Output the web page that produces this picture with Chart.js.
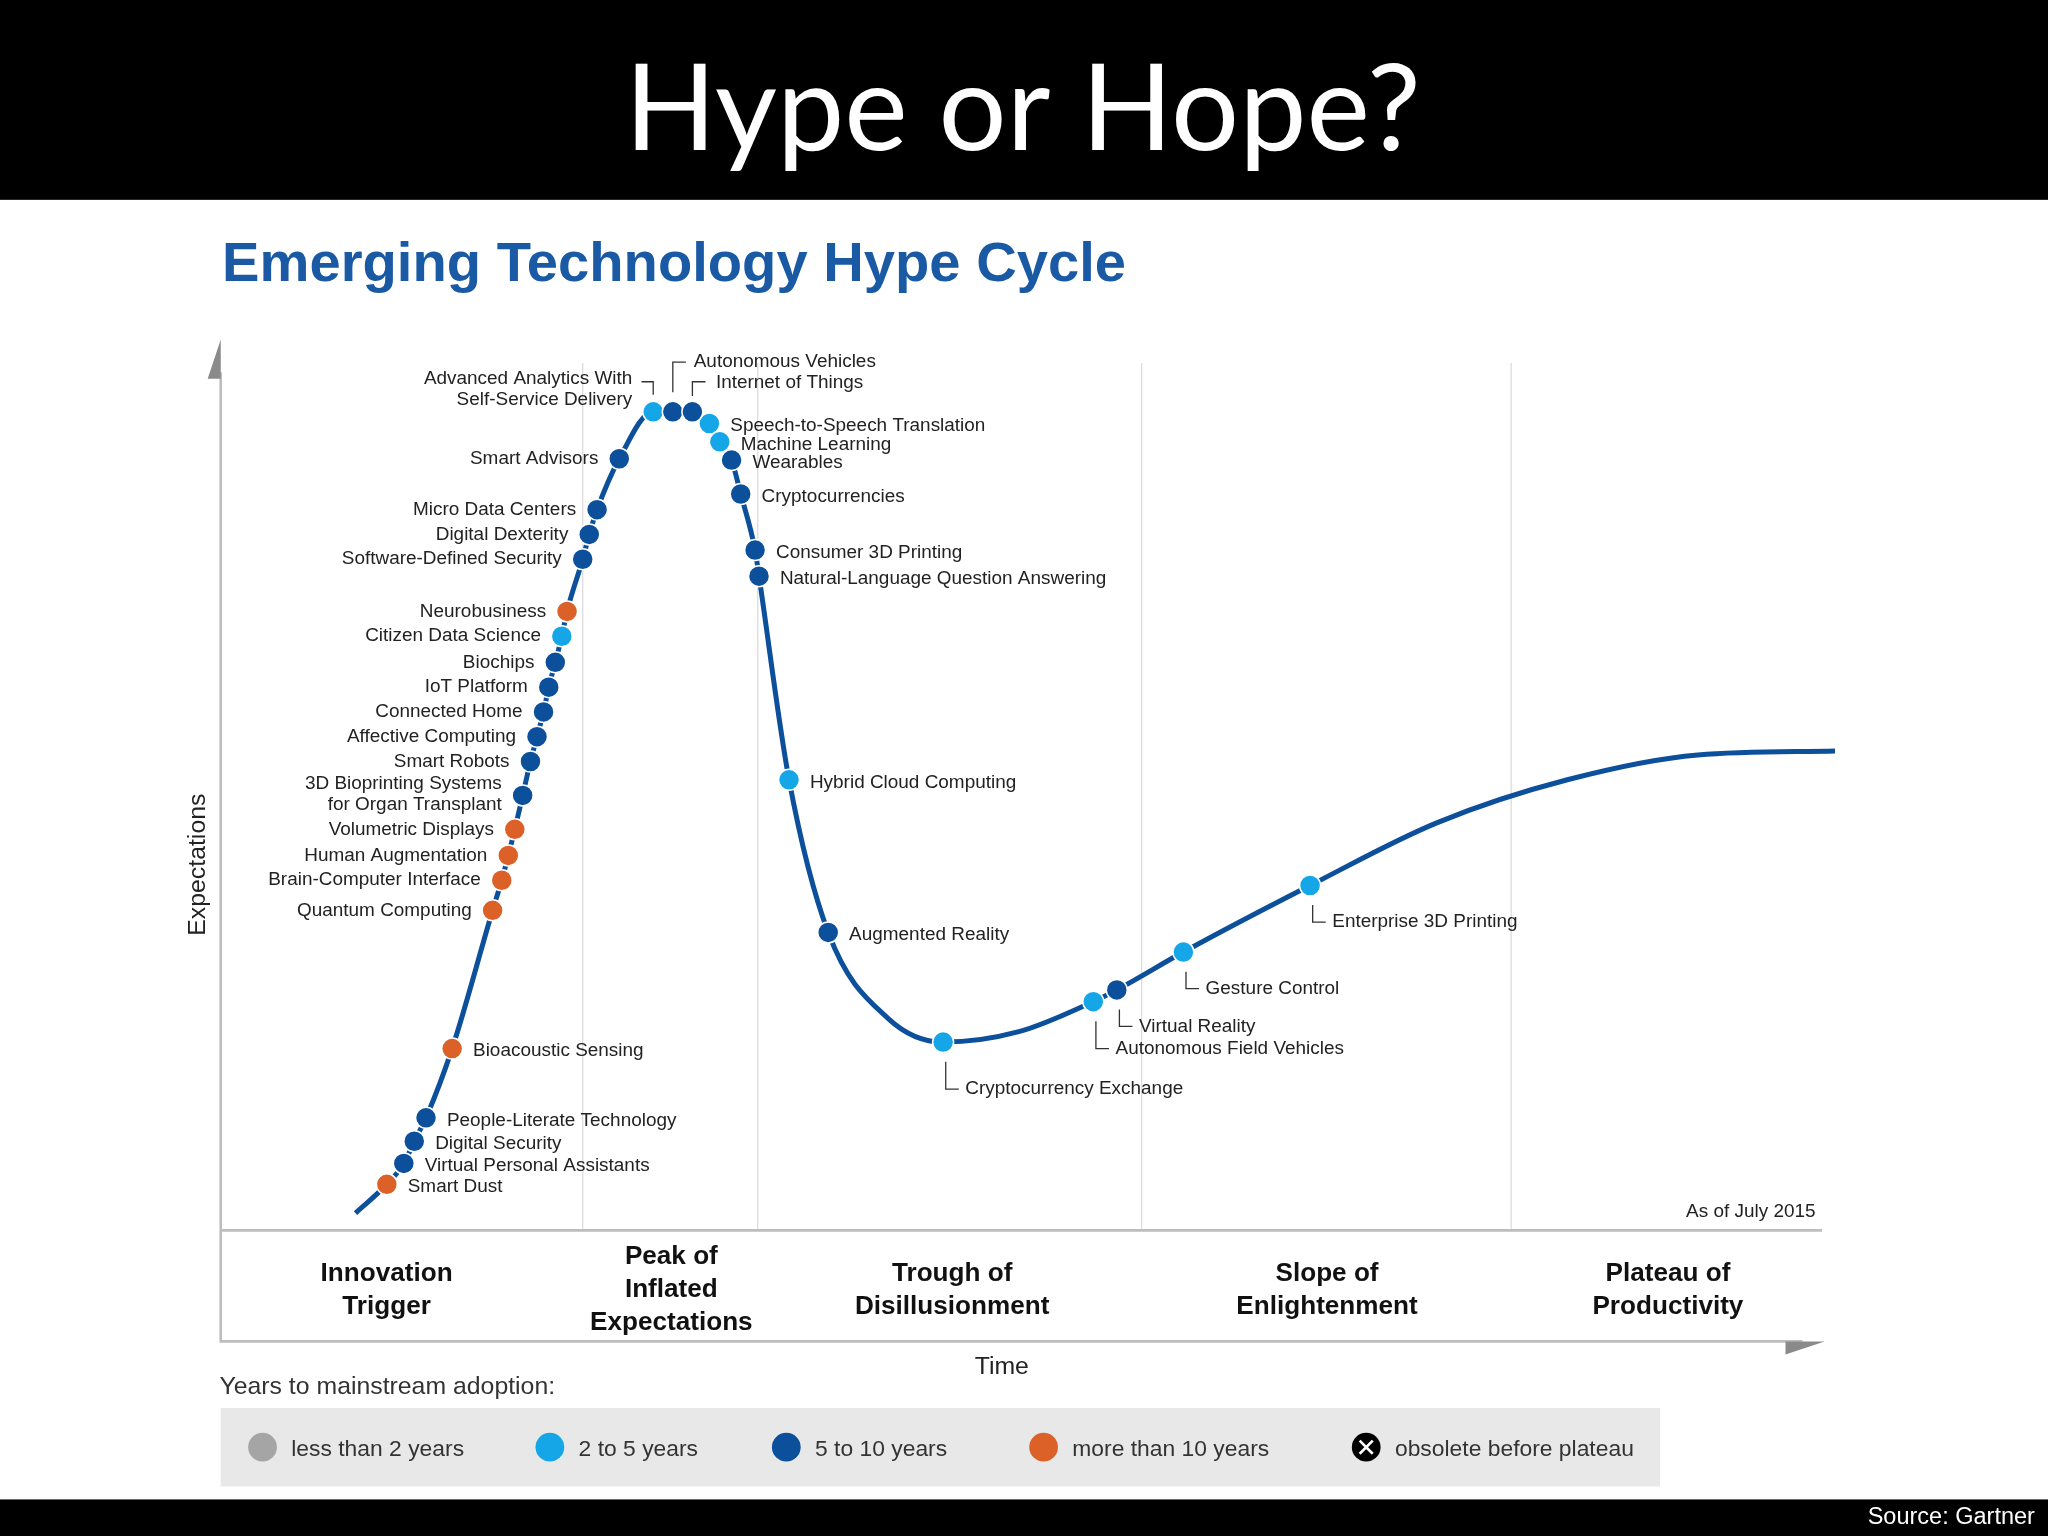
<!DOCTYPE html>
<html><head><meta charset="utf-8">
<script src="https://cdn.jsdelivr.net/npm/chart.js@4/dist/chart.umd.min.js"></script>
<style>html,body{margin:0;padding:0;background:#fff}canvas{display:block}</style>
</head><body>
<canvas id="c" width="2048" height="1536"></canvas>
<script>
// ---- Data (units: position along time axis / expectations) ----
const curveX = [103,127,140,148,157,177,208,215,220,225,231,237,242,247,251,256,261,265,277,282,288,305,331,346,361,374,382,391,398,409,412,435,465,511,553,611,668,686,737,834,931,1031,1131,1236];
const curveY = [13,35,51,68,86,139,245,268,287,307,333,359,378,397,416,435,455,474,514,533,552,591,627,627,627,618,604,590,564,521,501,345,228,162,144,152,175,184,213,264,312,345,364,367];
const techNames = ["Smart Dust","Virtual Personal Assistants","Digital Security","People-Literate Technology","Bioacoustic Sensing","Quantum Computing","Brain-Computer Interface","Human Augmentation","Volumetric Displays","3D Bioprinting Systems|for Organ Transplant","Smart Robots","Affective Computing","Connected Home","IoT Platform","Biochips","Citizen Data Science","Neurobusiness","Software-Defined Security","Digital Dexterity","Micro Data Centers","Smart Advisors","Advanced Analytics With|Self-Service Delivery","Autonomous Vehicles","Internet of Things","Speech-to-Speech Translation","Machine Learning","Wearables","Cryptocurrencies","Consumer 3D Printing","Natural-Language Question Answering","Hybrid Cloud Computing","Augmented Reality","Cryptocurrency Exchange","Autonomous Field Vehicles","Virtual Reality","Gesture Control","Enterprise 3D Printing"];
const techX = [127,140,148,157,177,208,215,220,225,231,237,242,247,251,256,261,265,277,282,288,305,331,346,361,374,382,391,398,409,412,435,465,553,668,686,737,834];
const techY = [35,51,68,86,139,245,268,287,307,333,359,378,397,416,435,455,474,514,533,552,591,627,627,627,618,604,590,564,521,501,345,228,144,175,184,213,264];
const techYears = ["10+","5-10","5-10","5-10","10+","10+","10+","10+","10+","5-10","5-10","5-10","5-10","5-10","5-10","2-5","10+","5-10","5-10","5-10","5-10","2-5","5-10","5-10","2-5","2-5","5-10","5-10","5-10","5-10","2-5","5-10","2-5","2-5","5-10","2-5","2-5"];
const phaseLabels = ["Innovation|Trigger","Peak of|Inflated|Expectations","Trough of|Disillusionment","Slope of|Enlightenment","Plateau of|Productivity"];
const phaseBounds = [277,411,705,988];
const legendLabels = ["less than 2 years","2 to 5 years","5 to 10 years","more than 10 years","obsolete before plateau"];
const yearKeys = ["<2","2-5","5-10","10+","obsolete"];

const COLORS = {"<2":"#a5a5a5","2-5":"#15a6e8","5-10":"#0c4f9b","10+":"#dc6128","obsolete":"#000"};
const S = 2048/1568;
const F = "'Liberation Sans', Arial, sans-serif";

function pts(key){const a=[];techX.forEach((x,i)=>{if(techYears[i]===key)a.push({x,y:techY[i],i});});return a;}

const place = {21:'aa',22:'av',23:'iot',32:'lb2',33:'lb2',34:'lb',35:'lb',36:'lb'};

const deco = {
  id:'deco',
  beforeDraw(ch){
    const c=ch.ctx; c.save(); c.scale(S,S);
    c.fillStyle='#fff'; c.fillRect(0,0,1568,1176);
    c.fillStyle='#000'; c.fillRect(0,0,1568,153); c.fillRect(0,1148,1568,28);
    c.fillStyle='#fff'; c.textAlign='center'; c.textBaseline='alphabetic';
    c.font="400 92px Lato, 'Open Sans', sans-serif"; c.fillText('Hype or Hope?',783,115);
    c.textAlign='right'; c.font='18px '+F; c.fillText('Source: Gartner',1558,1167);
    c.fillStyle='#1a5aa5'; c.textAlign='left'; c.font='bold 43px '+F; c.fillText('Emerging Technology Hype Cycle',170,215);
    const xs=ch.scales.x;
    c.strokeStyle='#dcdcdc'; c.lineWidth=1;
    phaseBounds.forEach(b=>{const px=xs.getPixelForValue(b)/S;c.beginPath();c.moveTo(px,278);c.lineTo(px,942);c.stroke();});
    c.strokeStyle='#bdbdbd'; c.lineWidth=2;
    c.beginPath(); c.moveTo(169,285); c.lineTo(169,1027); c.lineTo(1380,1027); c.stroke();
    c.beginPath(); c.moveTo(169,942); c.lineTo(1395,942); c.stroke();
    c.fillStyle='#8a8a8a';
    c.beginPath(); c.moveTo(169,260); c.lineTo(159,290); c.lineTo(169,290); c.fill();
    c.beginPath(); c.moveTo(1397,1027); c.lineTo(1367,1037); c.lineTo(1367,1027); c.fill();
    c.fillStyle='#111'; c.textAlign='center'; c.font='bold 20px '+F;
    const ctrs=[296,514,729,1016,1277];
    phaseLabels.forEach((p,i)=>{const ls=p.split('|');const y0= ls.length===3?968:981;ls.forEach((l,j)=>c.fillText(l,ctrs[i],y0+j*25));});
    c.font='19px '+F; c.fillStyle='#222'; c.fillText('Time',767,1052);
    c.save(); c.translate(157,662); c.rotate(-Math.PI/2); c.fillText('Expectations',0,0); c.restore();
    c.textAlign='right'; c.font='14.5px '+F; c.fillText('As of July 2015',1390,932);
    c.textAlign='left'; c.font='19px '+F; c.fillStyle='#333'; c.fillText('Years to mainstream adoption:',168,1067);
    c.fillStyle='#e8e8e8'; c.fillRect(169,1078,1102,60);
    const lx=[201,421,602,799,1046];
    legendLabels.forEach((l,i)=>{
      c.fillStyle=COLORS[yearKeys[i]]; c.beginPath(); c.arc(lx[i],1108,11,0,7); c.fill();
      if(i===4){c.strokeStyle='#fff';c.lineWidth=2;c.beginPath();c.moveTo(1041,1103);c.lineTo(1051,1113);c.moveTo(1051,1103);c.lineTo(1041,1113);c.stroke();}
      c.fillStyle='#333'; c.font='17.5px '+F; c.fillText(l,lx[i]+22,1115);
    });
    c.restore();
  },
  afterDatasetsDraw(ch){
    const c=ch.ctx; c.save(); c.scale(S,S);
    c.font='14.5px '+F; c.fillStyle='#222'; c.strokeStyle='#333'; c.lineWidth=1;
    const xs=ch.scales.x, ys=ch.scales.y;
    techNames.forEach((n,i)=>{
      const px=xs.getPixelForValue(techX[i])/S, py=ys.getPixelForValue(techY[i])/S;
      const ls=n.split('|'); const m=place[i] || (px<490 && i>4 ? 'l':'r');
      c.textBaseline='middle';
      if(m==='r'){c.textAlign='left';c.fillText(n,px+16,py+2);}
      else if(m==='l'){c.textAlign='right';
        if(ls.length===2){c.fillText(ls[0],px-16,py-9);c.fillText(ls[1],px-16,py+7);} else c.fillText(n,px-16,py);}
      else if(m==='aa'){c.textAlign='right';c.fillText(ls[0],px-16,py-25);c.fillText(ls[1],px-16,py-9);
        c.beginPath();c.moveTo(px-9,py-23);c.lineTo(px,py-23);c.lineTo(px,py-13);c.stroke();}
      else if(m==='av'){c.textAlign='left';c.fillText(n,px+16,py-38);
        c.beginPath();c.moveTo(px,py-15);c.lineTo(px,py-38);c.lineTo(px+10,py-38);c.stroke();}
      else if(m==='iot'){c.textAlign='left';c.fillText(n,px+18,py-22);
        c.beginPath();c.moveTo(px,py-12);c.lineTo(px,py-23);c.lineTo(px+10,py-23);c.stroke();}
      else if(m==='lb'||m==='lb2'){const d=m==='lb2'?8:0;c.textAlign='left';
        c.beginPath();c.moveTo(px+2,py+15);c.lineTo(px+2,py+28+d);c.lineTo(px+12,py+28+d);c.stroke();
        c.fillText(n,px+17,py+28+d);}
    });
    c.restore();
  }
};

const mk=(k)=>({type:'scatter',data:pts(k),backgroundColor:COLORS[k],borderColor:'#fff',borderWidth:1.5,pointRadius:10.5,pointHoverRadius:10.5,order:1});
new Chart(document.getElementById('c'),{
  type:'scatter',
  data:{datasets:[
    {type:'line',data:curveX.map((x,i)=>({x,y:curveY[i]})),borderColor:'#0c4f9b',borderWidth:5,pointRadius:0,tension:0.4,cubicInterpolationMode:'monotone',fill:false,order:2},
    mk('10+'),mk('5-10'),mk('2-5')
  ]},
  options:{responsive:false,devicePixelRatio:1,animation:false,
    layout:{padding:{left:221,right:213,top:340,bottom:306}},
    plugins:{legend:{display:false},tooltip:{enabled:false}},
    scales:{x:{type:'linear',min:0,max:1236,display:false},y:{type:'linear',min:0,max:682,display:false}}
  },
  plugins:[deco]
});
</script>
</body></html>
